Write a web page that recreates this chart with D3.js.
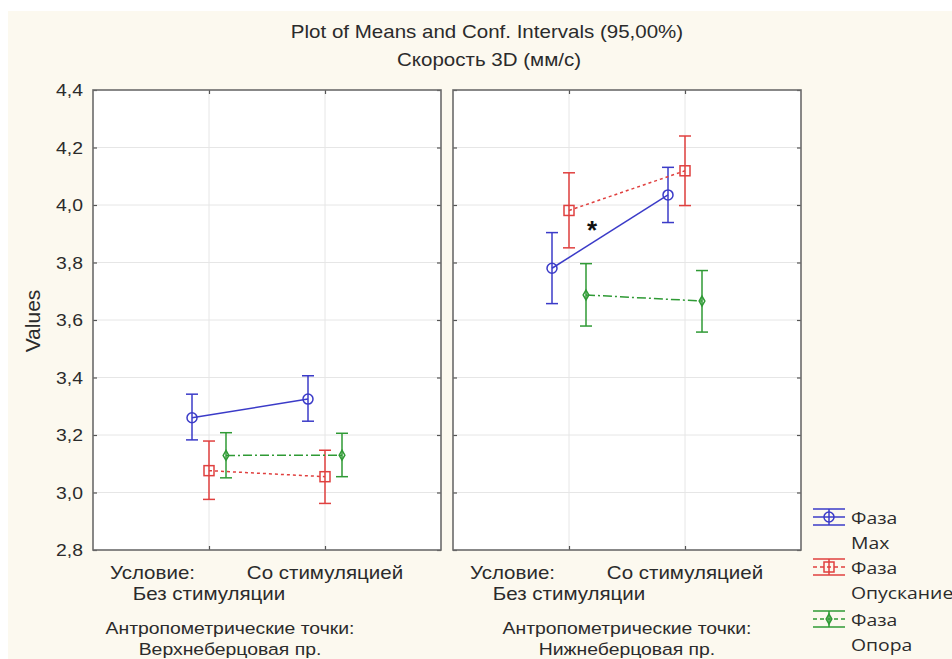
<!DOCTYPE html>
<html>
<head>
<meta charset="utf-8">
<script src="https://cdn.jsdelivr.net/npm/d3@7"></script>
<style>
  body { margin: 0; background: #ffffff; }
  svg text { font-family: "Liberation Sans", Arial, sans-serif; fill: #2b2b2b; }
  .legend text { font-family: "Open Sans", "Noto Sans", sans-serif; }
</style>
</head>
<body>
<div id="chart"></div>
<script>
// categories / panels / series
var categories = ["Без стимуляции", "Со стимуляцией"];
var panels = ["Верхнеберцовая пр.", "Нижнеберцовая пр."];
var seriesNames = ["Max", "Опускание", "Опора"];
var yTicks = [2.8, 3.0, 3.2, 3.4, 3.6, 3.8, 4.0, 4.2, 4.4];

// means and 95% CI, [panel][category]
var maxMean  = [[3.260, 3.325], [3.780, 4.035]];
var maxLow   = [[3.183, 3.248], [3.657, 3.939]];
var maxHigh  = [[3.342, 3.406], [3.904, 4.131]];
var downMean = [[3.076, 3.055], [3.981, 4.119]];
var downLow  = [[2.976, 2.962], [3.851, 3.998]];
var downHigh = [[3.179, 3.147], [4.112, 4.240]];
var supMean  = [[3.129, 3.130], [3.687, 3.666]];
var supLow   = [[3.051, 3.055], [3.579, 3.558]];
var supHigh  = [[3.208, 3.206], [3.796, 3.772]];

var W = 952, H = 659;
var panelX = [93, 453], panelW = 348;
var plotTop = 90, plotBottom = 550;
var stretch = 1.14;

var svg = d3.select("#chart").append("svg")
    .attr("width", W)
    .attr("height", H);

svg.append("rect")
    .attr("x", 8).attr("y", 11)
    .attr("width", W - 8).attr("height", H - 11)
    .attr("fill", "#fcf9ef");

var y = d3.scaleLinear().domain([2.8, 4.4]).range([plotBottom, plotTop]);
var fmt = function(d) { return d3.format(".1f")(d).replace(".", ","); };

// text is a bit wide in the original, so scale it horizontally
function label(parent, x, yy, str, size, anchor) {
  return parent.append("text")
    .attr("transform", "translate(" + x + "," + yy + ") scale(" + stretch + ",1)")
    .attr("text-anchor", anchor || "start")
    .style("font-size", size + "px")
    .text(str);
}

var styles = [
  {color: "#3b3bc8", dash: null, offset: -17, marker: "circle"},
  {color: "#e0403f", dash: "3,3", offset: 0, marker: "square"},
  {color: "#2f9a35", dash: "9,3,2,3", offset: 17, marker: "diamond"}
];

function drawMarker(g, type, cx, cy, color) {
  if (type == "circle") {
    g.append("circle").attr("cx", cx).attr("cy", cy).attr("r", 5)
      .attr("fill", "none").attr("stroke", color).attr("stroke-width", 1.5);
  } else if (type == "square") {
    g.append("rect").attr("x", cx - 5).attr("y", cy - 5).attr("width", 10).attr("height", 10)
      .attr("fill", "none").attr("stroke", color).attr("stroke-width", 1.5);
  } else {
    g.append("path").attr("d", d3.symbol(d3.symbolDiamond, 28)())
      .attr("transform", "translate(" + cx + "," + cy + ")")
      .attr("fill", "none").attr("stroke", color).attr("stroke-width", 1.5);
  }
}

panels.forEach(function(pname, p) {
  var g = svg.append("g").attr("transform", "translate(" + panelX[p] + ",0)");
  var x = d3.scalePoint().domain(categories).range([0, panelW]).padding(1);

  g.append("rect")
    .attr("x", 0).attr("y", plotTop)
    .attr("width", panelW).attr("height", plotBottom - plotTop)
    .attr("fill", "#ffffff");

  // grid
  g.selectAll(".hgrid").data(yTicks.slice(1, -1)).enter().append("line")
    .attr("x1", 0).attr("x2", panelW)
    .attr("y1", function(d) { return y(d); })
    .attr("y2", function(d) { return y(d); })
    .attr("stroke", "#e6e6e6").attr("stroke-width", 1);
  g.selectAll(".vgrid").data(categories).enter().append("line")
    .attr("x1", function(d) { return x(d); }).attr("x2", function(d) { return x(d); })
    .attr("y1", plotTop).attr("y2", plotBottom)
    .attr("stroke", "#e6e6e6").attr("stroke-width", 1);

  // axes with inward ticks
  var left = g.append("g").call(d3.axisRight(y).tickValues(yTicks).tickSize(4).tickFormat(""));
  var right = g.append("g").attr("transform", "translate(" + panelW + ",0)")
    .call(d3.axisLeft(y).tickValues(yTicks).tickSize(4).tickFormat(""));
  var topAx = g.append("g").attr("transform", "translate(0," + plotTop + ")")
    .call(d3.axisBottom(x).tickSize(4).tickFormat(""));
  var botAx = g.append("g").attr("transform", "translate(0," + plotBottom + ")")
    .call(d3.axisTop(x).tickSize(4).tickFormat(""));
  [left, right, topAx, botAx].forEach(function(a) {
    a.select(".domain").remove();
    a.selectAll("line").attr("stroke", "#555").attr("stroke-width", 1.2);
  });

  if (p == 0) {
    yTicks.forEach(function(d) {
      label(g, -10, y(d) + 6, fmt(d), 17, "end");
    });
  }

  var means = [maxMean[p], downMean[p], supMean[p]];
  var lows = [maxLow[p], downLow[p], supLow[p]];
  var highs = [maxHigh[p], downHigh[p], supHigh[p]];

  styles.forEach(function(s, k) {
    var pts = categories.map(function(c, i) {
      return {x: x(c) + s.offset, m: means[k][i], lo: lows[k][i], hi: highs[k][i]};
    });
    var line = d3.line().x(function(d) { return d.x; }).y(function(d) { return y(d.m); });
    g.append("path").datum(pts).attr("d", line)
      .attr("fill", "none").attr("stroke", s.color).attr("stroke-width", 1.5)
      .attr("stroke-dasharray", s.dash);
    pts.forEach(function(d) {
      g.append("line").attr("x1", d.x).attr("x2", d.x)
        .attr("y1", y(d.lo)).attr("y2", y(d.hi))
        .attr("stroke", s.color).attr("stroke-width", 1.5);
      [d.lo, d.hi].forEach(function(v) {
        g.append("line").attr("x1", d.x - 6).attr("x2", d.x + 6)
          .attr("y1", y(v)).attr("y2", y(v))
          .attr("stroke", s.color).attr("stroke-width", 1.5);
      });
      drawMarker(g, s.marker, d.x, y(d.m), s.color);
    });
  });

  g.append("rect")
    .attr("x", 0).attr("y", plotTop)
    .attr("width", panelW).attr("height", plotBottom - plotTop)
    .attr("fill", "none").attr("stroke", "#6b6b6b").attr("stroke-width", 1.6);

  if (p == 1) {
    g.append("text")
      .attr("x", x(categories[0]) + 23).attr("y", y(3.93) + 14)
      .attr("text-anchor", "middle")
      .style("font-size", "26px").style("font-weight", "bold")
      .style("fill", "#111")
      .text("*");
  }

  // category labels
  label(g, 17, 579, "Условие:", 18);
  label(g, x(categories[1]), 579, categories[1], 18, "middle");
  label(g, x(categories[0]), 600, categories[0], 18, "middle");
  var cx = p == 0 ? 137 : panelW / 2;
  label(g, cx, 634, "Антропометрические точки:", 17, "middle");
  label(g, cx, 655, pname, 17, "middle");
});

// titles
label(svg, 487, 38, "Plot of Means and Conf. Intervals (95,00%)", 18, "middle");
label(svg, 489, 66, "Скорость 3D (мм/с)", 18, "middle");
svg.append("text")
  .attr("transform", "translate(40,321) rotate(-90)")
  .attr("text-anchor", "middle").style("font-size", "21px").text("Values");

// legend
var legend = svg.append("g").attr("class", "legend");
var legY = [517, 567, 619];
styles.forEach(function(s, k) {
  var ly = legY[k];
  var lg = legend.append("g");
  [-8, 8].forEach(function(dy) {
    lg.append("line").attr("x1", 813).attr("x2", 845).attr("y1", ly + dy).attr("y2", ly + dy)
      .attr("stroke", s.color).attr("stroke-width", 1.5);
  });
  lg.append("line").attr("x1", 813).attr("x2", 845).attr("y1", ly).attr("y2", ly)
    .attr("stroke", s.color).attr("stroke-width", 1.5).attr("stroke-dasharray", s.dash ? "4,3" : null);
  lg.append("line").attr("x1", 829).attr("x2", 829).attr("y1", ly - 8).attr("y2", ly + 8)
    .attr("stroke", s.color).attr("stroke-width", 1.5);
  drawMarker(lg, s.marker, 829, ly, s.color);
  label(legend, 851, ly + 7, "Фаза", 17);
  label(legend, 851, ly + 32, seriesNames[k], 17);
});
</script>
</body>
</html>
